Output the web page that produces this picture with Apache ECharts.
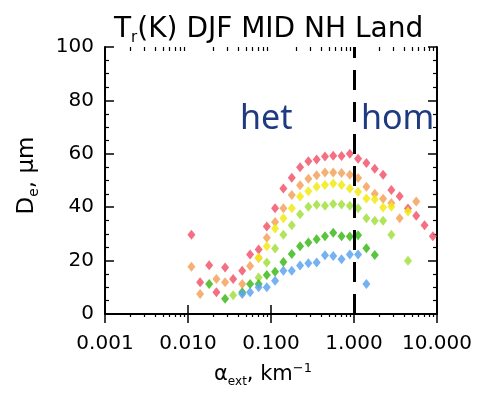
<!DOCTYPE html>
<html>
<head>
<meta charset="utf-8">
<script src="https://cdn.jsdelivr.net/npm/echarts@6/dist/echarts.min.js"></script>
<style>
html, body { margin: 0; padding: 0; background: #fff; }
#main { width: 477px; height: 393px; }
</style>
</head>
<body>
<div id="main"></div>
<script>
// extinction bins (km^-1), 0.1 decade apart
var alphaExt = [0.011, 0.014, 0.018, 0.022, 0.028, 0.035, 0.045, 0.056, 0.071, 0.089,
                0.112, 0.141, 0.178, 0.224, 0.282, 0.355, 0.447, 0.562, 0.708, 0.891,
                1.12, 1.41, 1.78, 2.24, 2.82, 3.55, 4.47, 5.62, 7.08, 8.91];

// De (um) per temperature class
var deRed    = [29.7, 11.9, 18.3, 8.1, 17.4, 13.1, 16.2, 22.3, 24.2, 32.8, 39.6, 47.0, 51.0, 55.0, 57.2, 57.9, 59.0, 59.3, 59.2, 60.0, 58.1, 56.6, 54.4, 52.2, 46.4, 44.1, 39.5, 36.8, 33.2, 29.1];
var deOrange = [17.7, 7.5, null, 13.1, 11.9, null, 11.2, 18.0, 21.0, 28.6, 34.5, 39.6, 44.6, 48.2, 50.7, 52.0, 53.0, 53.0, 52.8, 52.2, 50.9, 47.7, 45.0, 43.2, 41.6, 35.9, null, 42.1, null, null];
var deYellow = [null, null, null, null, null, null, null, null, 21.1, 25.4, 32.0, 35.9, 39.6, 44.0, 46.0, 47.7, 48.3, 48.9, 48.3, 47.0, 45.8, 43.3, 43.0, 39.9, 40.2, null, 38.4, null, null, null];
var deLime   = [null, null, null, null, null, 7.0, null, null, 13.7, 19.3, 24.5, 29.7, 33.2, 37.4, 40.2, 40.9, 40.5, 41.2, 41.0, 40.5, 39.6, 35.9, 34.9, 34.9, 29.7, null, 19.9, null, null, null];
var deGreen  = [null, null, 11.2, null, 5.7, null, 8.1, 11.2, 11.2, 14.6, 15.8, 19.5, 22.5, 25.4, 26.8, 28.0, 29.1, 30.4, 29.1, 29.0, 29.5, 24.6, 22.1, null, null, null, null, null, null, null];
var deBlue   = [null, null, null, null, null, null, 7.5, 8.1, 10.0, 10.0, 12.5, 16.2, 16.2, 18.2, 19.0, 19.3, 22.0, 21.7, 20.5, 22.3, 22.3, 11.2, null, null, null, null, null, null, null, null];

var boundary = 1; // het / hom split

// minor log ticks 2..9 in each decade (log10 units, for the tick-only axis)
var minorX = [];
for (var e = -3; e < 1; e++) {
    for (var m = 2; m <= 9; m++) minorX.push(e + Math.log10(m));
}

var FONT = 'DejaVu Sans';

function pairs(ys) {
    var out = [];
    ys.forEach(function (y, i) {
        if (y != null) out.push([alphaExt[i], y]);
    });
    return out;
}

function dots(name, color, ys) {
    return {
        name: name,
        type: 'scatter',
        xAxisIndex: 0,
        yAxisIndex: 0,
        symbol: 'diamond',
        symbolSize: [8, 10],
        itemStyle: { color: color, opacity: 0.85 },
        data: pairs(ys),
        z: 3
    };
}

var grids = [
    { left: 105, right: 40, top: 47, bottom: 76 },
    { left: 105, right: 40, top: 47, bottom: 76 }
];

var lineBlack = { show: true, lineStyle: { color: '#000', width: 2 } };
var minorTickAxis = function (pos) {
    return {
        gridIndex: 1, type: 'value', min: -3, max: 1, position: pos,
        axisLine: { show: true, lineStyle: { color: 'rgba(0,0,0,0)' } },
        axisTick: { show: true, inside: true, length: 4, customValues: minorX, lineStyle: { color: '#000', width: 1.2 } },
        axisLabel: { show: false },
        splitLine: { show: false }
    };
};

var myChart = echarts.init(document.getElementById('main'));
var option = {
    backgroundColor: '#fff',
    animation: false,
    title: {
        text: '{a|T}{s|r}{a|(K) DJF MID NH Land}',
        left: 109,
        top: 9,
        textStyle: {
            fontWeight: 'normal',
            rich: {
                a: { fontFamily: FONT, fontSize: 28, fontWeight: 'normal', color: '#000', lineHeight: 32 },
                s: { fontFamily: FONT, fontSize: 15, fontWeight: 'normal', color: '#000', lineHeight: 15, verticalAlign: 'bottom' }
            }
        }
    },
    grid: grids,
    xAxis: [
        {
            gridIndex: 0, type: 'log', logBase: 10, min: 0.001, max: 10, position: 'bottom',
            axisLine: lineBlack,
            axisTick: { inside: true, length: 9, lineStyle: { color: '#000', width: 1.5 } },
            axisLabel: {
                fontFamily: FONT, fontSize: 20, color: '#000', margin: 20,
                formatter: function (v) { return v.toFixed(3); }
            },
            splitLine: { show: false },
            name: '{a|α}{s|ext}{a|, km}{p|−1}',
            nameLocation: 'middle',
            nameGap: 48,
            nameTextStyle: {
                padding: [0, 16, 0, 0],
                rich: {
                    a: { fontFamily: FONT, fontSize: 21, color: '#000', lineHeight: 26 },
                    s: { fontFamily: FONT, fontSize: 12, color: '#000', lineHeight: 12, verticalAlign: 'bottom' },
                    p: { fontFamily: FONT, fontSize: 13, color: '#000', lineHeight: 13, verticalAlign: 'top' }
                }
            }
        },
        {
            gridIndex: 0, type: 'log', logBase: 10, min: 0.001, max: 10, position: 'top',
            axisLine: lineBlack,
            axisTick: { inside: true, length: 9, lineStyle: { color: '#000', width: 1.5 } },
            axisLabel: { show: false },
            splitLine: { show: false }
        },
        minorTickAxis('bottom'),
        minorTickAxis('top')
    ],
    yAxis: [
        {
            gridIndex: 0, type: 'value', min: 0, max: 100, interval: 20, position: 'left',
            axisLine: lineBlack,
            axisTick: { inside: true, length: 9, lineStyle: { color: '#000', width: 1.5 } },
            minorTick: { show: true, splitNumber: 4, length: 4, lineStyle: { color: '#000', width: 1.2 } },
            axisLabel: { fontFamily: FONT, fontSize: 20, color: '#000', margin: 11 },
            splitLine: { show: false },
            name: '{a|D}{s|e}{a|, μm}',
            nameLocation: 'middle',
            nameGap: 64,
            nameTextStyle: {
                padding: [0, 0, 0, 10],
                rich: {
                    a: { fontFamily: FONT, fontSize: 23, color: '#000', lineHeight: 28 },
                    s: { fontFamily: FONT, fontSize: 14, color: '#000', lineHeight: 14, verticalAlign: 'bottom' }
                }
            }
        },
        {
            gridIndex: 0, type: 'value', min: 0, max: 100, interval: 20, position: 'right',
            axisLine: lineBlack,
            axisTick: { inside: true, length: 9, lineStyle: { color: '#000', width: 1.5 } },
            minorTick: { show: true, splitNumber: 4, length: 4, lineStyle: { color: '#000', width: 1.2 } },
            axisLabel: { show: false },
            splitLine: { show: false }
        },
        {
            gridIndex: 1, type: 'value', min: 0, max: 100, show: false
        }
    ],
    graphic: [
        { type: 'text', left: 240, top: 102, style: { text: 'het', fill: '#1f3a80', font: '34px "Noto Sans"' } },
        { type: 'text', left: 361, top: 102, style: { text: 'hom', fill: '#1f3a80', font: '34px "Noto Sans"' } }
    ],
    series: [
        dots('red', '#f2566c', deRed),
        dots('orange', '#f4a25a', deOrange),
        dots('yellow', '#f2ea10', deYellow),
        dots('lime', '#a2e03e', deLime),
        dots('green', '#3dbb1a', deGreen),
        dots('blue', '#5ca4f0', deBlue),
        {
            type: 'scatter', xAxisIndex: 0, yAxisIndex: 0, data: [],
            markLine: {
                silent: true,
                symbol: ['none', 'none'],
                label: { show: false },
                lineStyle: { color: '#000', width: 3, type: [20, 12] },
                data: [{ xAxis: boundary }]
            },
            z: 5
        }
    ]
};
myChart.setOption(option);
</script>
</body>
</html>
